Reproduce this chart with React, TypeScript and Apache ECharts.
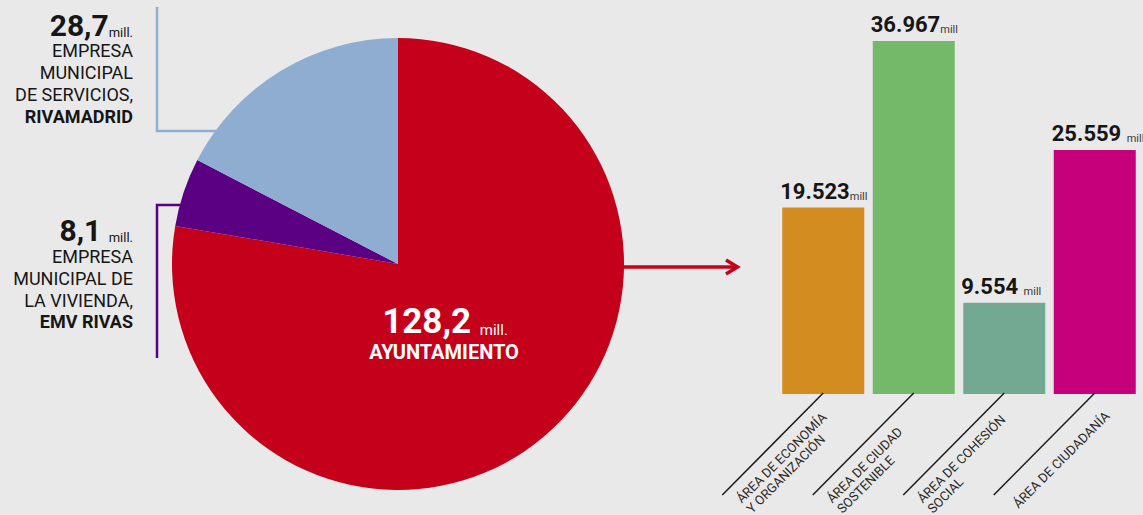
import React, { useEffect, useRef } from "react";
import * as echarts from "echarts";

// ---- data ----
const pieNames = ["AYUNTAMIENTO", "EMV RIVAS", "RIVAMADRID"];
const pieValues = [128.2, 8.1, 28.7];
const pieColors = ["#c4001a", "#5b0082", "#8eadd1"];
const pieDescriptions = ["", "EMPRESA\nMUNICIPAL DE\nLA VIVIENDA,", "EMPRESA\nMUNICIPAL\nDE SERVICIOS,"];
const pieUnit = "mill.";

const barCategories = [
  "ÁREA DE ECONOMÍA\nY ORGANIZACIÓN",
  "ÁREA DE CIUDAD\nSOSTENIBLE",
  "ÁREA DE COHESIÓN\nSOCIAL",
  "ÁREA DE CIUDADANÍA",
];
const barValues = [19.523, 36.967, 9.554, 25.559];
const barColors = ["#d28c1f", "#74b86a", "#73a892", "#c6007b"];
const barUnitGap = [false, false, true, true];
const barUnit = "mill";

const FONT = "Roboto, 'DejaVu Sans', sans-serif";
const BG = "#e9e9e9";
const INK = "#161616";

// pie geometry
const PIE_CX = 398;
const PIE_CY = 264;
const PIE_R = 226;

const fmtPie = (v: number) => v.toFixed(1).replace(".", ",");

function headline(x: number, yBottom: number, value: number, gap: boolean) {
  return {
    type: "text",
    x,
    y: yBottom,
    z: 10,
    style: {
      text: `{big|${fmtPie(value)}${gap ? " " : ""}}{unit|${pieUnit}}`,
      align: "right",
      verticalAlign: "bottom",
      rich: {
        big: { fontSize: 30, fontWeight: "bold", fontFamily: FONT, fill: INK, lineHeight: 34 },
        unit: {
          fontSize: 13,
          fontFamily: FONT,
          fill: INK,
          verticalAlign: "bottom",
          padding: [0, 0, 4, 0],
        },
      },
    },
  };
}

function bodyText(x: number, yTop: number, desc: string, name: string, lh: number) {
  const lines = desc.split("\n").map((l) => `{n|${l}}`);
  lines.push(`{b|${name}}`);
  return {
    type: "text",
    x,
    y: yTop,
    z: 10,
    style: {
      text: lines.join("\n"),
      align: "right",
      verticalAlign: "top",
      rich: {
        n: { fontSize: 18, fontFamily: FONT, fill: INK, lineHeight: lh, align: "right" },
        b: { fontSize: 18, fontWeight: "bold", fontFamily: FONT, fill: INK, lineHeight: lh, align: "right" },
      },
    },
  };
}

function pieEdgeX(y: number) {
  const dy = y - PIE_CY;
  return PIE_CX - Math.sqrt(PIE_R * PIE_R - dy * dy);
}

export default function App() {
  const ref = useRef<HTMLDivElement>(null);

  useEffect(() => {
    document.body.style.margin = "0";
    document.body.style.background = BG;
    if (!ref.current) return;
    const chart = echarts.init(ref.current, undefined, { renderer: "svg" });

    const graphic: any[] = [
      // connector for RIVAMADRID
      {
        type: "polyline",
        z: 5,
        shape: { points: [[157, 7], [157, 131], [pieEdgeX(131) + 2, 131]] },
        style: { stroke: pieColors[2], lineWidth: 2.5, fill: "none" },
      },
      // connector for EMV RIVAS
      {
        type: "polyline",
        z: 5,
        shape: { points: [[157, 358], [157, 205], [pieEdgeX(205) + 2, 205]] },
        style: { stroke: pieColors[1], lineWidth: 2.5, fill: "none" },
      },
      headline(133, 42.5, pieValues[2], false),
      bodyText(133, 39.7, pieDescriptions[2], pieNames[2], 22),
      headline(133, 247.5, pieValues[1], true),
      bodyText(133, 246, pieDescriptions[1], pieNames[1], 21.7),
      // centre label
      {
        type: "text",
        x: 445,
        y: 341.5,
        z: 10,
        style: {
          text: `{big|${fmtPie(pieValues[0])} }{unit|${pieUnit}}`,
          align: "center",
          verticalAlign: "bottom",
          rich: {
            big: { fontSize: 35, fontWeight: "bold", fontFamily: FONT, fill: "#ffffff", lineHeight: 40 },
            unit: {
              fontSize: 15,
              fontFamily: FONT,
              fill: "#ffffff",
              verticalAlign: "bottom",
              padding: [0, 0, 4, 0],
            },
          },
        },
      },
      {
        type: "text",
        x: 444,
        y: 352,
        z: 10,
        style: {
          text: pieNames[0],
          fontSize: 20,
          fontWeight: "bold",
          fontFamily: FONT,
          fill: "#ffffff",
          align: "center",
          verticalAlign: "middle",
        },
      },
      // arrow
      {
        type: "line",
        z: 5,
        shape: { x1: PIE_CX + PIE_R - 2, y1: 267, x2: 737, y2: 267 },
        style: { stroke: pieColors[0], lineWidth: 3.5 },
      },
      {
        type: "polyline",
        z: 5,
        shape: { points: [[726, 260], [737.5, 267], [726, 274]] },
        style: { stroke: pieColors[0], lineWidth: 3.5, fill: "none" },
      },
    ];

    const option: any = {
      animation: false,
      backgroundColor: BG,
      grid: { left: 778, width: 362, top: 12, height: 382 },
      xAxis: { type: "category", data: barCategories, show: false },
      yAxis: { type: "value", min: 0, max: 40, show: false },
      graphic,
      series: [
        {
          type: "pie",
          center: [PIE_CX, PIE_CY],
          radius: PIE_R,
          startAngle: 90,
          clockwise: true,
          silent: true,
          label: { show: false },
          labelLine: { show: false },
          data: pieNames.map((n, i) => ({
            name: n,
            value: pieValues[i],
            itemStyle: { color: pieColors[i] },
          })),
        },
        {
          type: "bar",
          barWidth: 82,
          silent: true,
          data: barValues.map((v, i) => ({ value: v, itemStyle: { color: barColors[i] } })),
          label: {
            show: true,
            position: [-2, -3],
            align: "left",
            verticalAlign: "bottom",
            formatter: (p: any) =>
              `{v|${Number(p.value).toFixed(3)}${barUnitGap[p.dataIndex] ? " " : ""}}{u|${barUnit}}`,
            rich: {
              v: { fontSize: 22, fontWeight: "bold", fontFamily: FONT, color: INK, lineHeight: 26 },
              u: {
                fontSize: 11,
                fontFamily: FONT,
                color: "#3a3a3a",
                verticalAlign: "bottom",
                padding: [0, 0, 3, 0],
              },
            },
          },
        },
        {
          type: "custom",
          silent: true,
          clip: false,
          z: 3,
          data: barCategories.map((_, i) => [i, 0]),
          encode: { x: 0, y: 1 },
          renderItem: (params: any, api: any) => {
            const i = api.value(0);
            const p = api.coord([i, 0]);
            const L = 101;
            return {
              type: "group",
              children: [
                {
                  type: "line",
                  shape: { x1: p[0], y1: p[1] - 1, x2: p[0] - L, y2: p[1] + L },
                  style: { stroke: "#1a1a1a", lineWidth: 1.5 },
                },
                {
                  type: "text",
                  x: p[0] - 79.5,
                  y: p[1] + 111.8,
                  rotation: Math.PI / 4,
                  style: {
                    text: barCategories[i],
                    fontSize: 13,
                    fontFamily: FONT,
                    fill: "#2a2a2a",
                    align: "left",
                    verticalAlign: "middle",
                    lineHeight: 14.5,
                  },
                },
              ],
            };
          },
        },
      ],
    };

    chart.setOption(option);
    return () => chart.dispose();
  }, []);

  return <div ref={ref} style={{ width: 1143, height: 515 }} />;
}
